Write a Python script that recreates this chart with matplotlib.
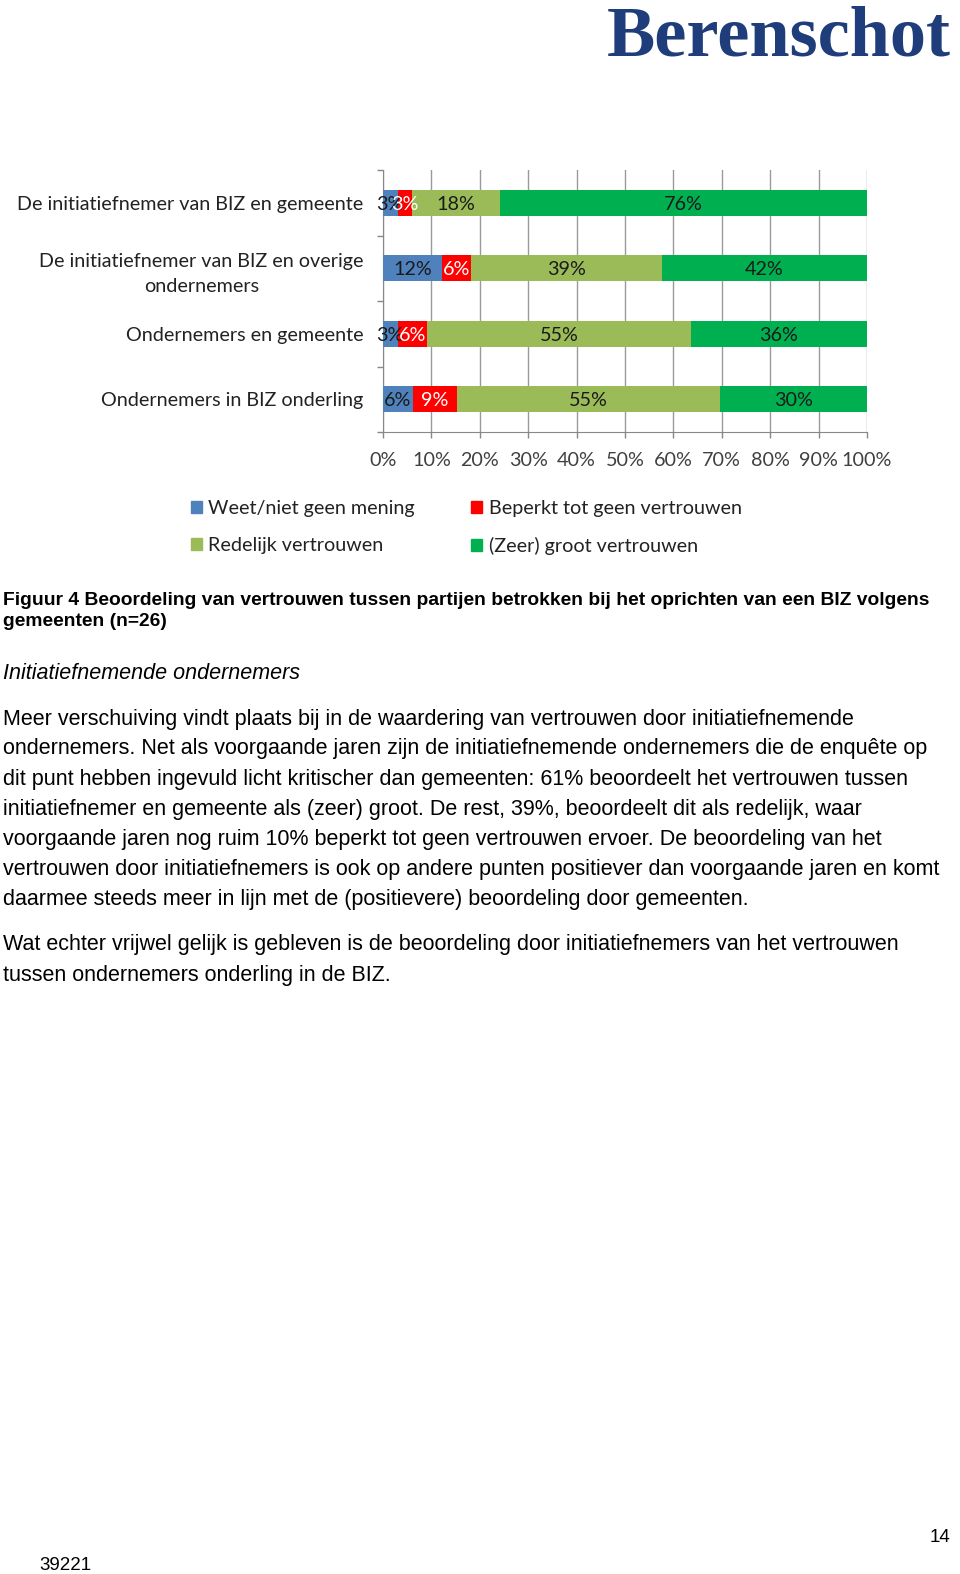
import matplotlib
matplotlib.use("Agg")
import matplotlib.pyplot as plt
from matplotlib.patches import Patch
import numpy as np

# ---------------- data ----------------
categories = [
    "De initiatiefnemer van BIZ en gemeente",
    "De initiatiefnemer van BIZ en overige\nondernemers",
    "Ondernemers en gemeente",
    "Ondernemers in BIZ onderling",
]
series_names = [
    "Weet/niet geen mening",
    "Beperkt tot geen vertrouwen",
    "Redelijk vertrouwen",
    "(Zeer) groot vertrouwen",
]
weet = [3.0, 12.1, 3.0, 6.1]
beperkt = [3.0, 6.1, 6.1, 9.1]
redelijk = [18.2, 39.4, 54.5, 54.5]
groot = [75.8, 42.4, 36.4, 30.3]
xtick_values = [0, 10, 20, 30, 40, 50, 60, 70, 80, 90, 100]
xtick_labels = ["0%", "10%", "20%", "30%", "40%", "50%", "60%", "70%", "80%", "90%", "100%"]

colors = ["#4F81BD", "#FF0000", "#9BBB59", "#00B050"]
label_colors = ["#1a1a1a", "white", "#1a1a1a", "#1a1a1a"]

caption_lines = [
    "Figuur 4 Beoordeling van vertrouwen tussen partijen betrokken bij het oprichten van een BIZ volgens",
    "gemeenten (n=26)",
]
heading = "Initiatiefnemende ondernemers"
para1 = [
    "Meer verschuiving vindt plaats bij in de waardering van vertrouwen door initiatiefnemende",
    "ondernemers. Net als voorgaande jaren zijn de initiatiefnemende ondernemers die de enquête op",
    "dit punt hebben ingevuld licht kritischer dan gemeenten: 61% beoordeelt het vertrouwen tussen",
    "initiatiefnemer en gemeente als (zeer) groot. De rest, 39%, beoordeelt dit als redelijk, waar",
    "voorgaande jaren nog ruim 10% beperkt tot geen vertrouwen ervoer. De beoordeling van het",
    "vertrouwen door initiatiefnemers is ook op andere punten positiever dan voorgaande jaren en komt",
    "daarmee steeds meer in lijn met de (positievere) beoordeling door gemeenten.",
]
para2 = [
    "Wat echter vrijwel gelijk is gebleven is de beoordeling door initiatiefnemers van het vertrouwen",
    "tussen ondernemers onderling in de BIZ.",
]

# ---------------- figure ----------------
W, H = 960, 1574
fig = plt.figure(figsize=(W / 100, H / 100), dpi=100)
fig.patch.set_facecolor("white")

def fx(px):
    return px / W

def fy(py):
    return 1 - py / H

chart_font = "Lato"
cfs = 14.2

ax = fig.add_axes([fx(383), fy(432), fx(867) - fx(383), fy(170) - fy(432)])
y = np.arange(len(categories))
data = [weet, beperkt, redelijk, groot]
left = np.zeros(len(categories))
for vals, col, lc, name in zip(data, colors, label_colors, series_names):
    vals = np.array(vals)
    ax.barh(y, vals, left=left, height=0.4, color=col, label=name, zorder=3)
    for yi, (l, v) in enumerate(zip(left, vals)):
        ax.text(l + v / 2, yi, "%d%%" % int(np.floor(v + 0.5)), ha="center",
                va="center_baseline", color=lc, fontsize=cfs, family=chart_font, zorder=4)
    left = left + vals

ax.set_xlim(0, 100)
ax.set_ylim(len(categories) - 0.5, -0.5)
ax.set_xticks(xtick_values)
ax.set_xticklabels(xtick_labels, family=chart_font, fontsize=cfs, color="#404040")
ax.set_yticks(y)
ax.set_yticklabels(categories, family=chart_font, fontsize=cfs, color="#222222",
                   linespacing=1.6, multialignment="center")
ax.set_yticks(np.arange(-0.5, len(categories) + 0.5, 1), minor=True)
ax.tick_params(axis="y", which="major", length=0, pad=14)
ax.tick_params(axis="y", which="minor", length=4, color="#888888", width=1)
ax.tick_params(axis="x", which="major", length=4, color="#888888", width=1, pad=10.5)
ax.xaxis.grid(True, color="#9a9a9a", linewidth=1, zorder=0)
for s in ["top", "right"]:
    ax.spines[s].set_visible(False)
ax.spines["left"].set_color("#888888")
ax.spines["bottom"].set_color("#888888")

order = [0, 2, 1, 3]
fig.legend([Patch(color=colors[i]) for i in order], [series_names[i] for i in order],
           ncol=2, loc="upper left", bbox_to_anchor=(fx(173), fy(482)),
           frameon=False, prop={"family": chart_font, "size": cfs},
           handlelength=0.55, handleheight=0.55, handletextpad=0.35,
           columnspacing=2.85, labelspacing=1.03, labelcolor="#222222")

# ---------------- logo ----------------
fig.text(fx(951), fy(56), "Berenschot", ha="right", va="baseline",
         family="Liberation Serif", weight="bold", fontsize=52, color="#1F3D7A")

# ---------------- body text ----------------
tfs = 15.5
tx = fx(3)
fig.text(tx, fy(600), caption_lines[0], ha="left", va="center", family="Liberation Sans",
         weight="bold", fontsize=13.9, color="black")
fig.text(tx, fy(622), caption_lines[1], ha="left", va="center", family="Liberation Sans",
         weight="bold", fontsize=13.9, color="black")
fig.text(tx, fy(674), heading, ha="left", va="center", family="Liberation Sans",
         style="italic", fontsize=tfs, color="black")
for i, line in enumerate(para1):
    fig.text(tx, fy(719 + 30 * i), line, ha="left", va="center",
             family="Liberation Sans", fontsize=tfs, color="black")
for i, line in enumerate(para2):
    fig.text(tx, fy(945 + 30 * i), line, ha="left", va="center",
             family="Liberation Sans", fontsize=tfs, color="black")

fig.text(fx(950), fy(1537), "14", ha="right", va="center", family="Liberation Sans",
         fontsize=13.5, color="black")
fig.text(fx(39), fy(1565), "39221", ha="left", va="center", family="Liberation Sans",
         fontsize=13.5, color="black")

fig.savefig("out.png", dpi=100, facecolor="white")
